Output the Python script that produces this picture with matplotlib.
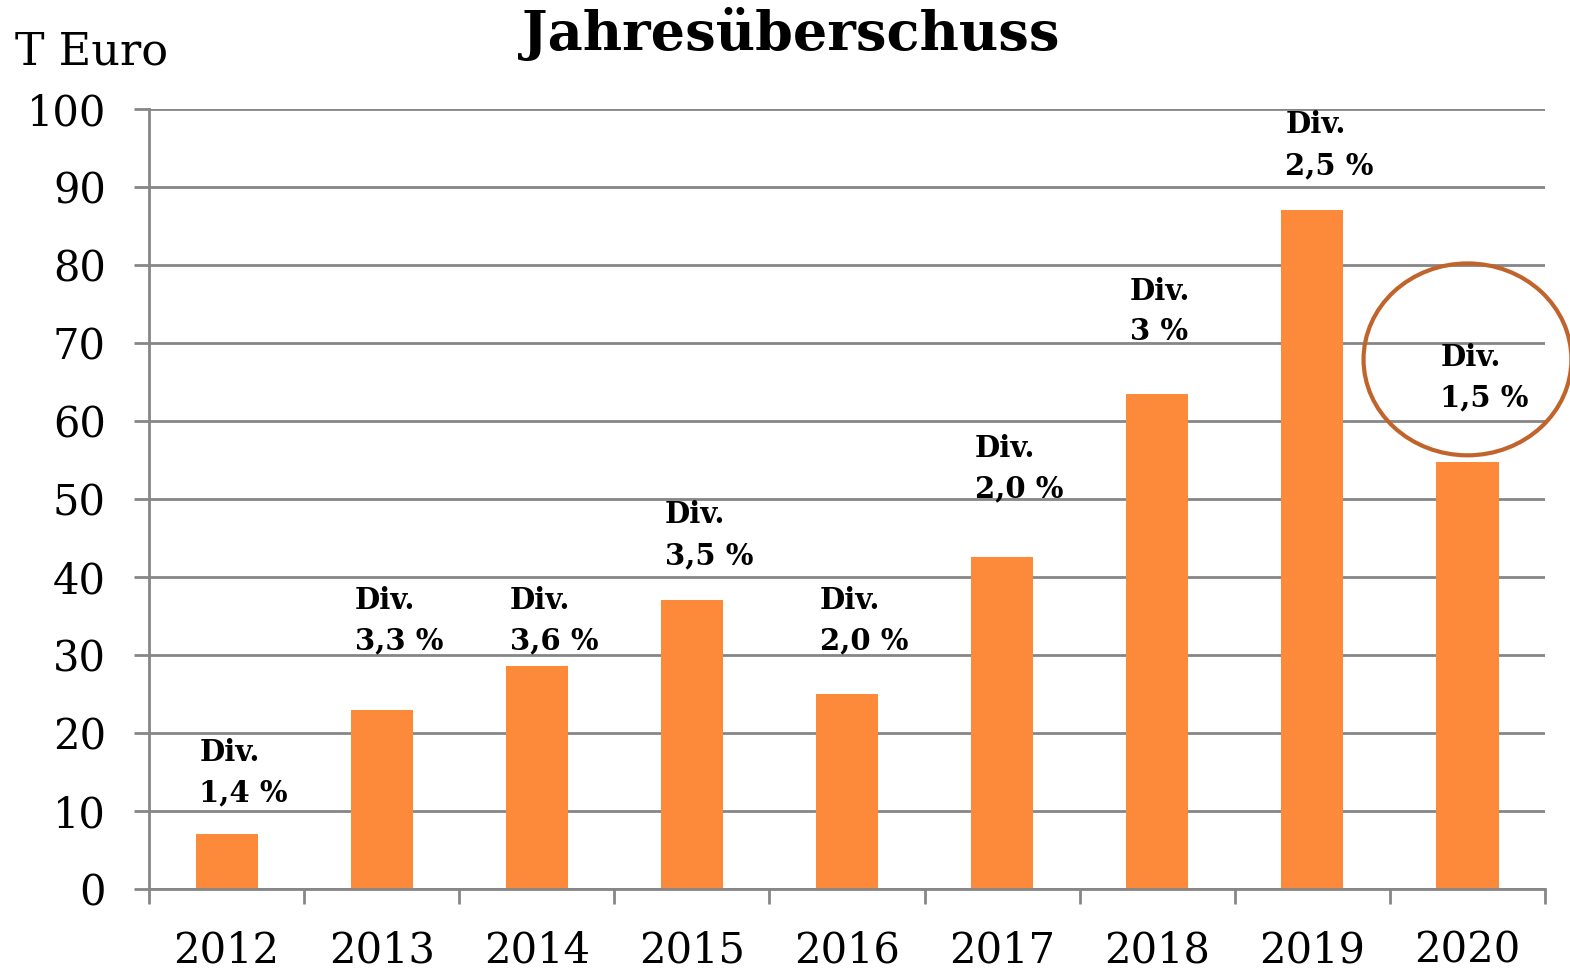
import matplotlib
matplotlib.use('Agg')
import matplotlib.pyplot as plt
from matplotlib.patches import Ellipse

# Data
years = ['2012', '2013', '2014', '2015', '2016', '2017', '2018', '2019', '2020']
ueberschuss = [7.0, 23.0, 28.6, 37.0, 25.0, 42.6, 63.5, 87.0, 54.7]
dividende = ['1,4 %', '3,3 %', '3,6 %', '3,5 %', '2,0 %', '2,0 %', '3 %', '2,5 %', '1,5 %']
label_y = [10.5, 30.0, 30.0, 40.9, 30.0, 49.4, 69.6, 90.9, 61.1]

bar_color = '#FD8A3A'
grid_color = '#868686'
plt.rcParams['font.family'] = ['DejaVu Serif']

fig = plt.figure(figsize=(15.7, 9.75), dpi=100)
ax = fig.add_axes([0.0949, 0.0882, 0.8892, 0.80])

x = range(len(years))
ax.bar(x, ueberschuss, width=0.4, color=bar_color, zorder=3)

ax.set_xlim(-0.5, len(years) - 0.5)
ax.set_ylim(0, 100)
ax.set_yticks(range(0, 101, 10))
ax.yaxis.grid(True, color=grid_color, linewidth=2, zorder=0)
ax.tick_params(axis='y', labelsize=30, length=11, width=2, color=grid_color, pad=20)

ax.set_xticks(list(x))
ax.set_xticklabels(years)
ax.tick_params(axis='x', which='major', labelsize=30, length=0, pad=29)
ax.set_xticks([i - 0.5 for i in range(len(years) + 1)], minor=True)
ax.tick_params(axis='x', which='minor', length=11, width=2, color=grid_color)

for s in ['top', 'right']:
    ax.spines[s].set_visible(False)
for s in ['left', 'bottom']:
    ax.spines[s].set_color(grid_color)
    ax.spines[s].set_linewidth(2)
ax.spines['bottom'].set_zorder(4)

# Dividend labels
for i, (d, yl) in enumerate(zip(dividende, label_y)):
    ax.text(i - 0.175, yl, f'Div.\n{d}', fontsize=21, fontweight='bold',
            ha='left', va='bottom', linespacing=1.5, zorder=5)

# Highlight 2020
ax.add_patch(Ellipse((8.0, 67.9), 1.34, 24.6, fill=False, edgecolor='#C0642C',
                     linewidth=3, clip_on=False, zorder=6))

fig.text(0.5035, 0.965, 'Jahresüberschuss', fontsize=39, fontweight='bold',
         ha='center', va='center')
fig.text(0.0095, 0.947, 'T Euro', fontsize=32, ha='left', va='center')

fig.savefig('out.png', dpi=100)
